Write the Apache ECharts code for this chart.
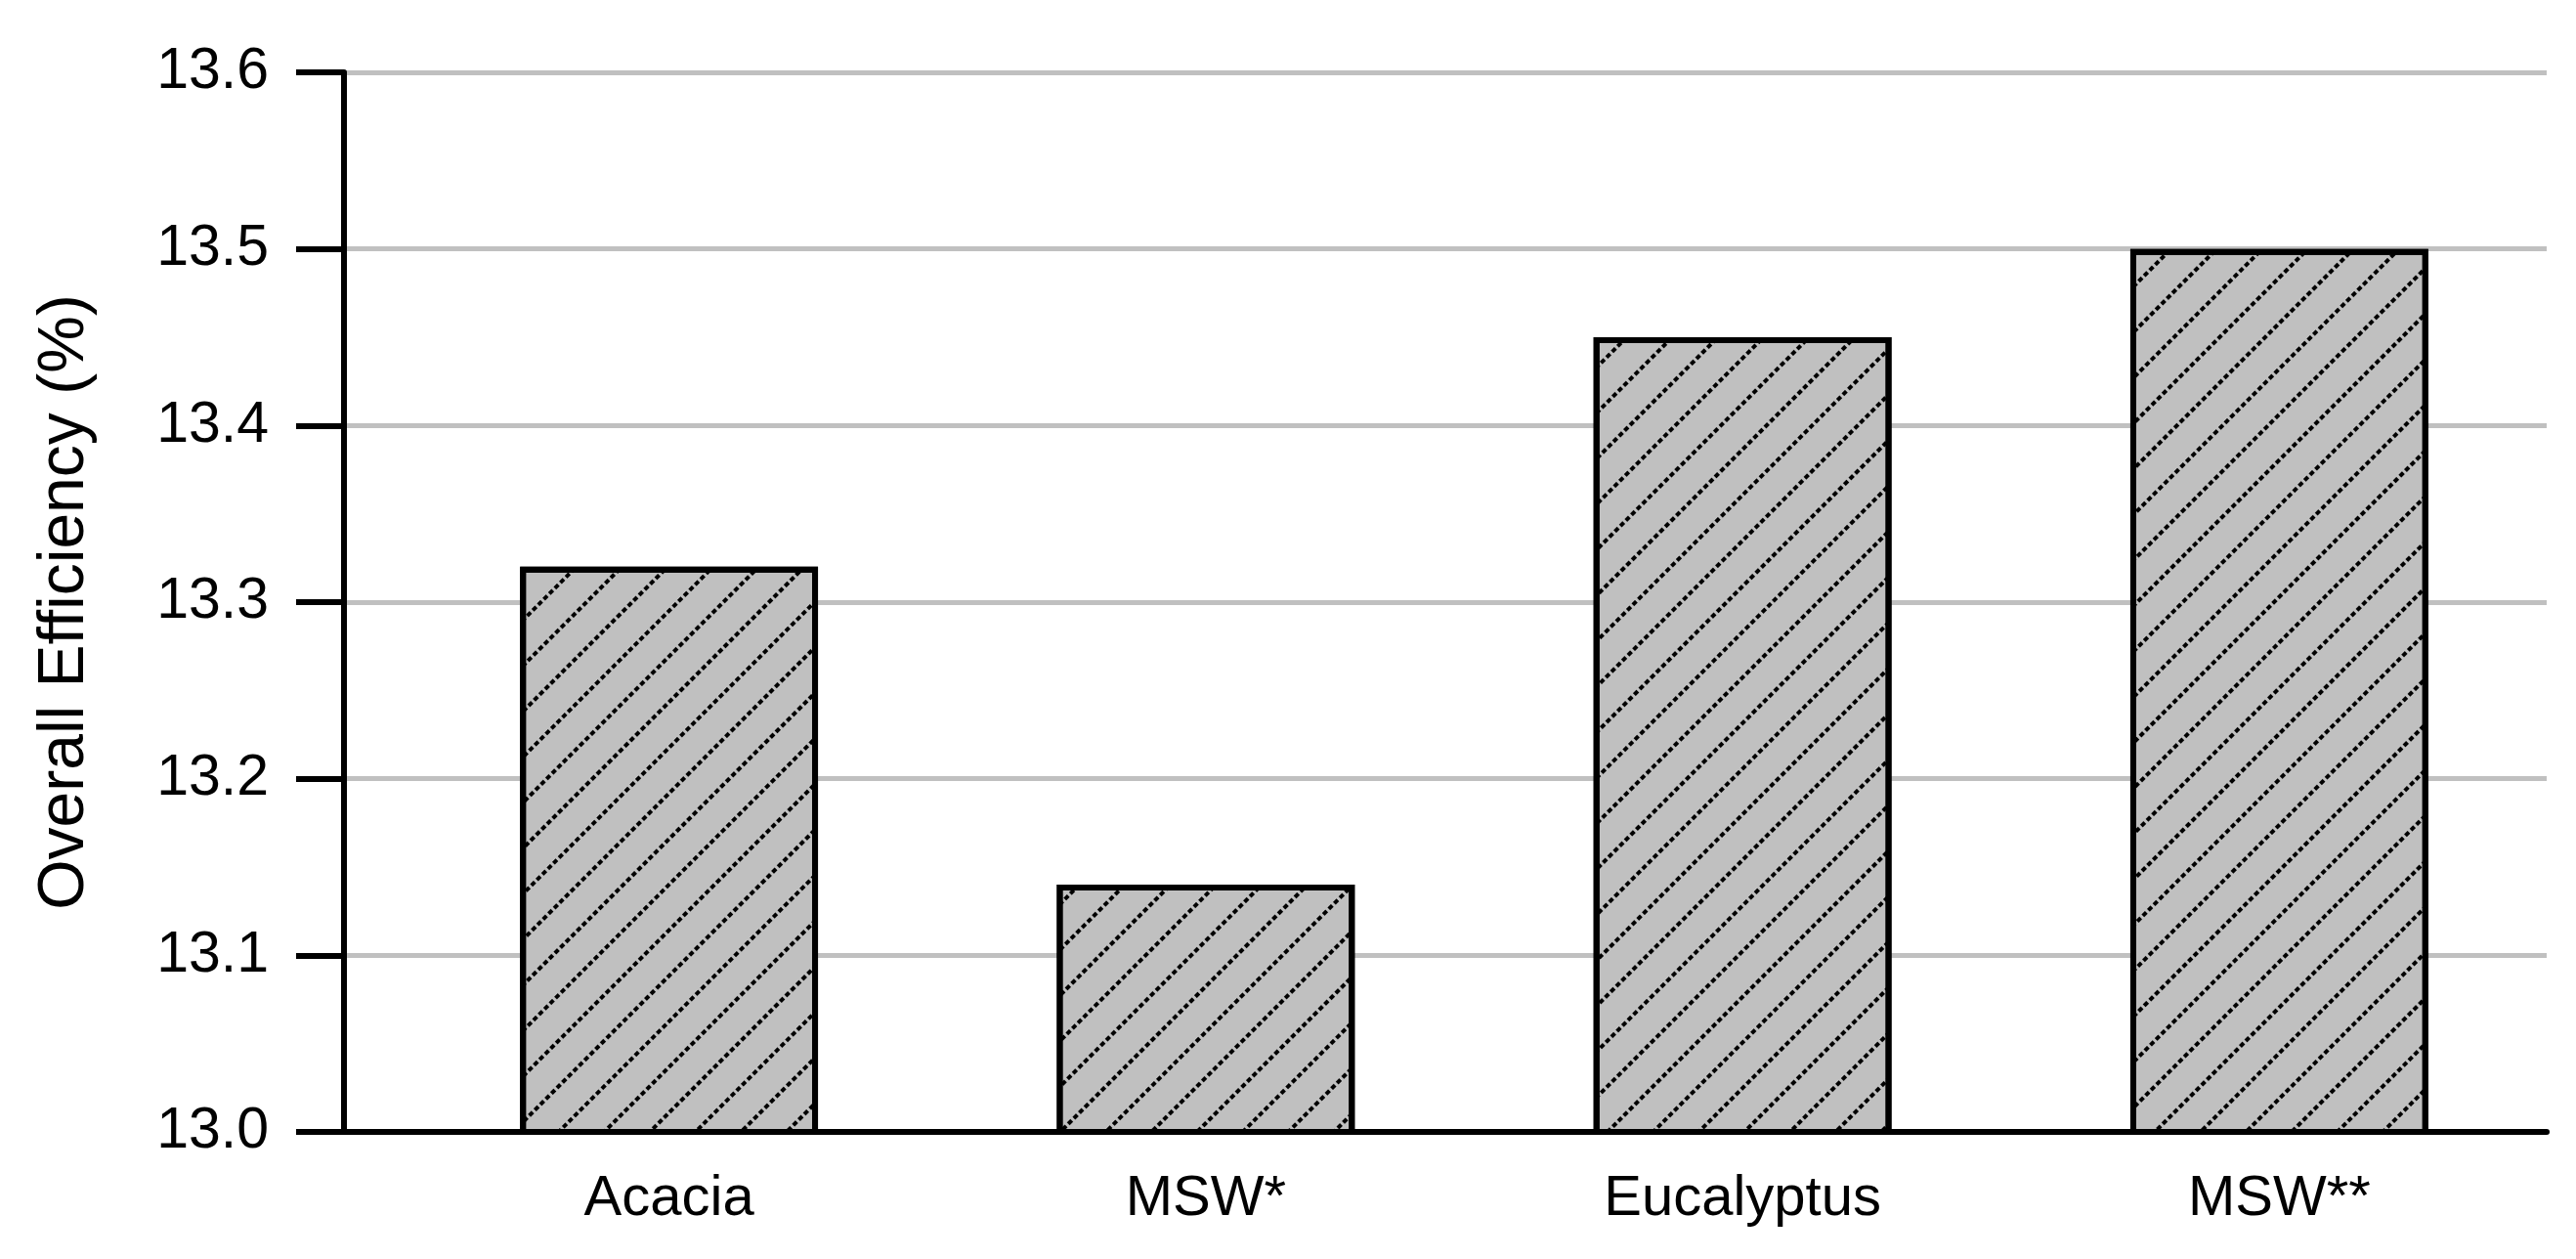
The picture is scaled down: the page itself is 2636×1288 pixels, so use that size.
<!DOCTYPE html>
<html>
<head>
<meta charset="utf-8">
<title>Overall Efficiency</title>
<script src="https://cdn.jsdelivr.net/npm/echarts@6/dist/echarts.min.js"></script>
<style>
  html, body { margin: 0; padding: 0; background: #fff; }
  #chart { width: 2636px; height: 1288px; }
</style>
</head>
<body>
<div id="chart"></div>
<script>
// data
const categories = ['Acacia', 'MSW*', 'Eucalyptus', 'MSW**']
const efficiency = [13.32, 13.14, 13.45, 13.50]
const yMin = 13.0
const yMax = 13.6
const yStep = 0.1

const font = "'Liberation Sans', Arial, sans-serif"

const chart = echarts.init(document.getElementById('chart'))

const option = {
  backgroundColor: '#fff',
  animation: false,
  grid: [
    // bars
    { left: 410, right: 29, top: 74, bottom: 130 },
    // y axis, gridlines, x axis line
    { left: 352, right: 30, top: 74, bottom: 130 }
  ],
  xAxis: [
    {
      type: 'category',
      gridIndex: 0,
      data: categories,
      axisLine: { show: false },
      axisTick: { show: false },
      axisLabel: {
        color: '#000',
        fontFamily: font,
        fontSize: 58,
        margin: 40
      }
    },
    {
      type: 'value',
      gridIndex: 1,
      min: 0,
      max: 1,
      axisLine: { show: true, lineStyle: { color: '#000', width: 6 } },
      axisTick: { show: false },
      axisLabel: { show: false },
      splitLine: { show: false }
    }
  ],
  yAxis: [
    {
      type: 'value',
      gridIndex: 0,
      min: yMin,
      max: yMax,
      interval: yStep,
      show: false
    },
    {
      type: 'value',
      gridIndex: 1,
      min: yMin,
      max: yMax,
      interval: yStep,
      name: 'Overall Efficiency (%)',
      nameLocation: 'middle',
      nameGap: 252,
      nameTextStyle: {
        color: '#000',
        fontFamily: font,
        fontSize: 66
      },
      axisLine: { show: true, lineStyle: { color: '#000', width: 6 } },
      axisTick: { show: true, length: 49, lineStyle: { color: '#000', width: 6 } },
      axisLabel: {
        color: '#000',
        fontFamily: font,
        fontSize: 59,
        margin: 77,
        formatter: v => v.toFixed(1)
      },
      splitLine: { show: true, lineStyle: { color: '#c0c0c0', width: 5 } }
    }
  ],
  series: [
    {
      name: 'Overall Efficiency',
      type: 'bar',
      xAxisIndex: 0,
      yAxisIndex: 0,
      data: efficiency,
      barCategoryGap: '44.5%',
      itemStyle: {
        color: '#c0c0c0',
        borderColor: '#000',
        borderWidth: 6,
        decal: {
          symbol: 'rect',
          symbolSize: 1,
          color: '#000',
          dashArrayX: [5, 3],
          dashArrayY: [4, 29],
          rotation: -Math.PI / 4
        }
      }
    }
  ]
}

chart.setOption(option)
</script>
</body>
</html>
